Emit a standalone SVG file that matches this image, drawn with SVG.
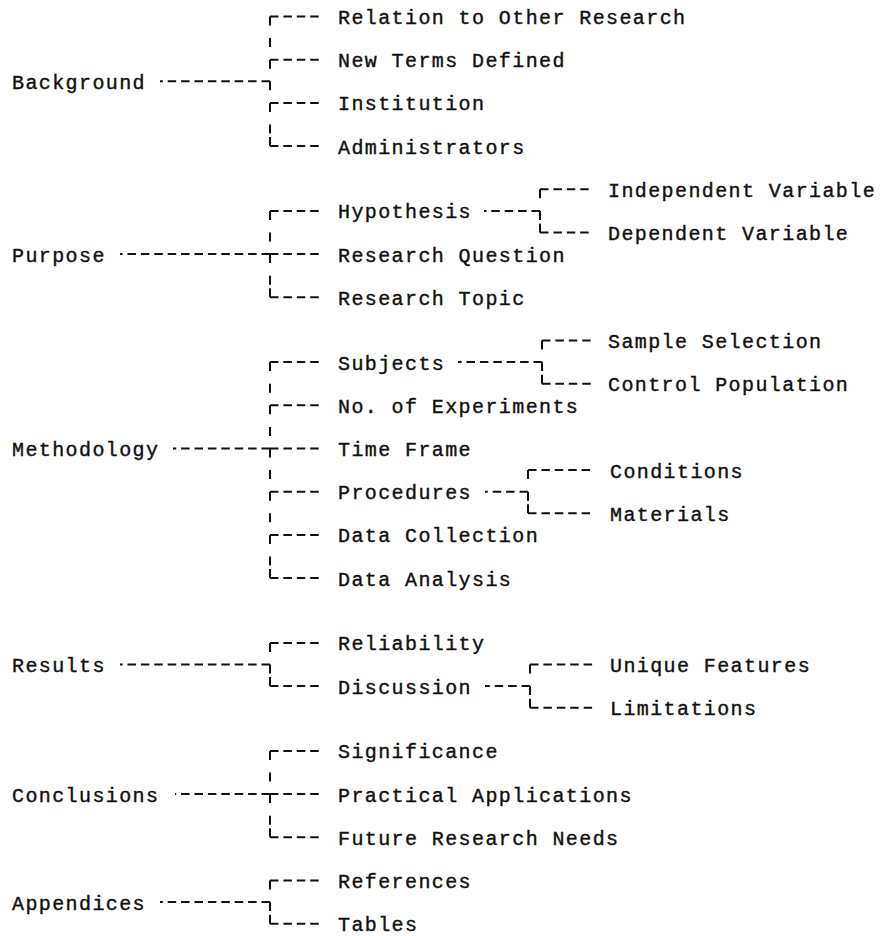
<svg xmlns="http://www.w3.org/2000/svg" width="884" height="936" viewBox="0 0 884 936">
<style>
text{font-family:"Liberation Mono","DejaVu Sans Mono",monospace;font-size:20px;letter-spacing:1.4px;fill:#111;stroke:#111;stroke-width:0.4px}
.h{fill:none;stroke:#111;stroke-width:2;stroke-dasharray:8.5 4.9}
.v{fill:none;stroke:#111;stroke-width:2;stroke-dasharray:9 12.6}
.c{fill:none;stroke:#111;stroke-width:2}
</style>
<rect width="884" height="936" fill="#fff"/>
<g id="connectors">
<path class="v" d="M270 16.5V146.1M270 210.9V297.3M270 362.1V578.1M270 642.9V686.1M270 750.9V837.3M270 880.5V923.7"/>
<path class="v" d="M540 189.3V232.5M542 340.5V383.7M528 470.1V513.3M530 664.5V707.7"/>
<path class="c" d="M270 137.1V146.1M270 288.3V297.3M270 569.1V578.1M270 677.1V686.1M270 828.3V837.3M270 914.7V923.7M540 223.5V232.5M542 374.7V383.7M528 504.3V513.3M530 698.7V707.7"/>
<path class="h" d="M270 16.5H320M270 59.7H320M270 102.9H320M270 146.1H320"/>
<path class="h" d="M270 210.9H320M270 254.1H320M270 297.3H320"/>
<path class="h" d="M270 362.1H320M270 405.3H320M270 448.5H320M270 491.7H320M270 534.9H320M270 578.1H320"/>
<path class="h" d="M270 642.9H320M270 686.1H320"/>
<path class="h" d="M270 750.9H320M270 794.1H320M270 837.3H320"/>
<path class="h" d="M270 880.5H320M270 923.7H320"/>
<path class="h" d="M270 81.3H160M270 254.1H120M270 448.5H173M270 664.5H120M270 794.1H175M270 902.1H160"/>
<path class="h" d="M540 210.9H484M542 362.1H458M528 491.7H485M530 686.1H485"/>
<path class="h" d="M540 189.3H592M540 232.5H592M542 340.5H593M542 383.7H593M528 470.1H592M528 513.3H592M530 664.5H594M530 707.7H594"/>
</g>
<g id="background"><text x="12" y="88.8">Background</text></g>
<g id="relation"><text x="338" y="24">Relation to Other Research</text></g>
<g id="new-terms"><text x="338" y="67.2">New Terms Defined</text></g>
<g id="institution"><text x="338" y="110.4">Institution</text></g>
<g id="administrators"><text x="338" y="153.6">Administrators</text></g>
<g id="purpose"><text x="12" y="261.6">Purpose</text></g>
<g id="hypothesis"><text x="338" y="218.4">Hypothesis</text></g>
<g id="independent"><text x="608" y="196.8">Independent Variable</text></g>
<g id="dependent"><text x="608" y="240">Dependent Variable</text></g>
<g id="research-question"><text x="338" y="261.6">Research Question</text></g>
<g id="research-topic"><text x="338" y="304.8">Research Topic</text></g>
<g id="methodology"><text x="12" y="456">Methodology</text></g>
<g id="subjects"><text x="338" y="369.6">Subjects</text></g>
<g id="sample-selection"><text x="608" y="348">Sample Selection</text></g>
<g id="control-population"><text x="608" y="391.2">Control Population</text></g>
<g id="experiments"><text x="338" y="412.8">No. of Experiments</text></g>
<g id="time-frame"><text x="338" y="456">Time Frame</text></g>
<g id="procedures"><text x="338" y="499.2">Procedures</text></g>
<g id="conditions"><text x="610" y="477.6">Conditions</text></g>
<g id="materials"><text x="610" y="520.8">Materials</text></g>
<g id="data-collection"><text x="338" y="542.4">Data Collection</text></g>
<g id="data-analysis"><text x="338" y="585.6">Data Analysis</text></g>
<g id="results"><text x="12" y="672">Results</text></g>
<g id="reliability"><text x="338" y="650.4">Reliability</text></g>
<g id="discussion"><text x="338" y="693.6">Discussion</text></g>
<g id="unique-features"><text x="610" y="672">Unique Features</text></g>
<g id="limitations"><text x="610" y="715.2">Limitations</text></g>
<g id="conclusions"><text x="12" y="801.6">Conclusions</text></g>
<g id="significance"><text x="338" y="758.4">Significance</text></g>
<g id="practical"><text x="338" y="801.6">Practical Applications</text></g>
<g id="future"><text x="338" y="844.8">Future Research Needs</text></g>
<g id="appendices"><text x="12" y="909.6">Appendices</text></g>
<g id="references"><text x="338" y="888">References</text></g>
<g id="tables"><text x="338" y="931.2">Tables</text></g>
</svg>
